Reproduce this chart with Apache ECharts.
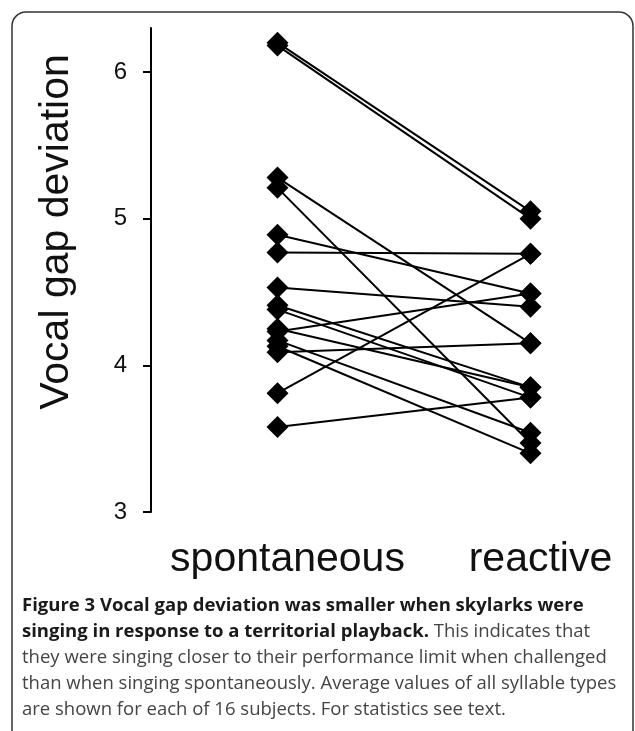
<!DOCTYPE html>
<html>
<head>
<meta charset="utf-8">
<script src="https://cdn.jsdelivr.net/npm/echarts@6/dist/echarts.min.js"></script>
<style>
  html, body { margin: 0; padding: 0; background: #fff; }
  #chart { width: 635px; height: 731px; }
</style>
</head>
<body>
<div id="chart"></div>
<script>
var categories = ['spontaneous', 'reactive'];
// one value per subject, same order in both arrays
var spontaneous = [6.20, 6.18, 5.28, 5.21, 4.89, 4.77, 4.53, 4.41, 4.38, 4.25, 4.23, 4.17, 4.13, 4.09, 3.81, 3.58];
var reactive    = [5.05, 5.00, 4.15, 3.47, 4.49, 4.76, 4.40, 3.85, 3.78, 3.85, 4.49, 3.54, 3.40, 4.15, 4.76, 3.78];
var yTicks = [3, 4, 5, 6];

var captionLines = [
    [{ t: 'Figure 3 Vocal gap deviation was smaller when skylarks were', s: 'b' }],
    [{ t: 'singing in response to a territorial playback.', s: 'b' }, { t: ' This indicates that', s: 'r' }],
    [{ t: 'they were singing closer to their performance limit when challenged', s: 'r' }],
    [{ t: 'than when singing spontaneously. Average values of all syllable types', s: 'r' }],
    [{ t: 'are shown for each of 16 subjects. For statistics see text.', s: 'r' }]
];

var chart = echarts.init(document.getElementById('chart'));

var series = spontaneous.map(function (v, i) {
    return {
        type: 'line',
        data: [v, reactive[i]],
        symbol: 'diamond',
        symbolSize: 22,
        showSymbol: true,
        lineStyle: { color: '#000', width: 2 },
        itemStyle: { color: '#000' },
        z: 3,
        animation: false
    };
});

var graphics = [{
    type: 'rect',
    shape: { x: 12, y: 12, width: 621, height: 780, r: 14 },
    style: { fill: 'none', stroke: '#333', lineWidth: 1.5 },
    silent: true
}, {
    type: 'text',
    x: 57, y: 232,
    rotation: Math.PI / 2,
    style: {
        text: 'Vocal gap deviation',
        font: '41px "Liberation Sans", Arial, sans-serif',
        fill: '#111',
        align: 'center',
        verticalAlign: 'middle'
    }
}];

captionLines.forEach(function (line, i) {
    graphics.push({
        type: 'text',
        x: 22,
        y: 606 + i * 26,
        style: {
            text: line.map(function (p) { return '{' + p.s + '|' + p.t + '}'; }).join(''),
            verticalAlign: 'middle',
            rich: {
                b: { font: 'bold 18.5px "Open Sans", sans-serif', fill: '#1a1a1a' },
                r: { font: '18.5px "Open Sans", sans-serif', fill: '#444' }
            }
        }
    });
});

chart.setOption({
    animation: false,
    grid: { left: 151, width: 506, top: 28, bottom: 219, outerBoundsMode: 'none', containLabel: false },
    xAxis: {
        type: 'category',
        data: categories,
        boundaryGap: true,
        axisLine: { show: false },
        axisTick: { show: false },
        axisLabel: {
            interval: 0,
            hideOverlap: false,
            margin: 27,
            padding: [0, 0, 0, 20],
            fontSize: 41,
            color: '#111',
            fontFamily: '"Liberation Sans", Arial, sans-serif'
        }
    },
    yAxis: {
        type: 'value',
        min: 3,
        max: 6.3,
        interval: 1,
        splitLine: { show: false },
        axisLine: { show: true, lineStyle: { color: '#000', width: 2 } },
        axisTick: { show: true, length: 8, lineStyle: { color: '#000', width: 2 }, customValues: yTicks },
        axisLabel: {
            margin: 24,
            fontSize: 24,
            color: '#111',
            fontFamily: '"Liberation Sans", Arial, sans-serif',
            customValues: yTicks
        }
    },
    series: series,
    graphic: graphics
});
</script>
</body>
</html>
